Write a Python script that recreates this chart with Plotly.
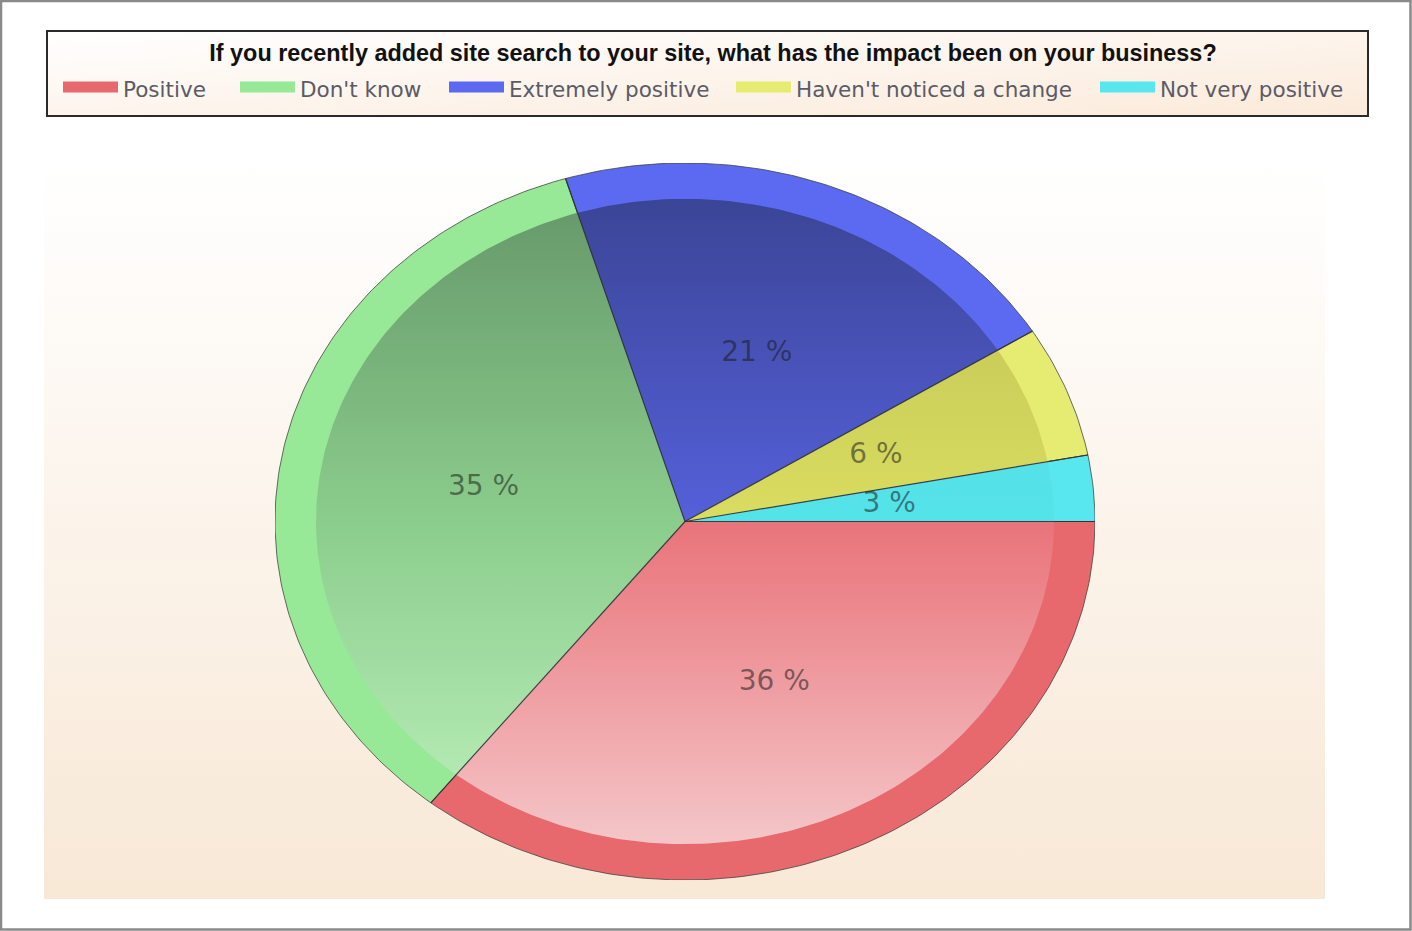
import base64
import numpy as np
import plotly.graph_objects as go

# ---------------- data ----------------
categories = ["Positive", "Don't know", "Extremely positive",
              "Haven't noticed a change", "Not very positive"]
values = [36, 35, 21, 6, 3]
chart_title = ("If you recently added site search to your site, "
               "what has the impact been on your business?")

# ---------------- styles ----------------
rim_colors = ["#E8696D", "#97E897", "#5B6AF0", "#E5EC71", "#58E7EE"]
grad_top = ["#B8484E", "#66986A", "#3B4596", "#BCBF52", "#4FD8E0"]
grad_mid = ["#E9737A", "#8BCD8C", "#5560DA", "#DADD60", "#55E3EA"]
grad_bot = ["#F4C6C8", "#BDF1BD", "#8C94F0", "#EEF2A8", "#A8F2F5"]
label_color = "rgba(25,25,25,0.55)"
legend_px = [63, 240, 449, 736, 1100]   # left edge of each legend swatch (px)

W, H = 1412, 931
CX, CY, RX, RY = 685, 521.5, 410, 358.5
INNER = 0.9

total = float(sum(values))
fracs = [v / total for v in values]
cum = np.concatenate([[0.0], np.cumsum(fracs)])
legend_ids = ["legend"] + [f"legend{k}" for k in range(2, len(categories) + 1)]


def wedge(a0, a1, r):
    t = np.linspace(a0, a1, max(8, int(400 * (a1 - a0))))
    ang = 2 * np.pi * t
    xs = np.concatenate([[0.0], r * np.cos(ang), [0.0]])
    ys = np.concatenate([[0.0], -r * np.sin(ang), [0.0]])
    return xs, ys


fig = go.Figure()

# outer rim slices
for i, cat in enumerate(categories):
    xs, ys = wedge(cum[i], cum[i + 1], 1.0)
    fig.add_trace(go.Scatter(
        x=xs, y=ys, mode="lines", fill="toself", name=cat,
        legendgroup=cat, showlegend=False,
        fillcolor=rim_colors[i],
        line=dict(color="rgba(60,60,60,0.75)", width=1),
        hovertemplate=f"{cat}: {values[i]}<extra></extra>",
    ))

# inner gradient slices
for i, cat in enumerate(categories):
    xs, ys = wedge(cum[i], cum[i + 1], INNER)
    fig.add_trace(go.Scatter(
        x=xs, y=ys, mode="lines", fill="toself", showlegend=False,
        legendgroup=cat,
        line=dict(width=0, color=grad_mid[i]),
        fillgradient=dict(type="vertical", start=-INNER, stop=INNER,
                          colorscale=[[0, grad_bot[i]], [0.5, grad_mid[i]],
                                      [1, grad_top[i]]]),
        hoverinfo="skip",
    ))

# radial separators
rx, ry = [], []
for c in cum[:-1]:
    a = 2 * np.pi * c
    rx += [0.0, np.cos(a), None]
    ry += [0.0, -np.sin(a), None]
fig.add_trace(go.Scatter(x=rx, y=ry, mode="lines", showlegend=False,
                         line=dict(color="rgba(45,45,55,0.85)", width=1.2),
                         hoverinfo="skip"))

# percentage labels
mids = 2 * np.pi * (cum[:-1] + cum[1:]) / 2
fig.add_trace(go.Scatter(
    x=0.5 * np.cos(mids), y=-0.5 * np.sin(mids), mode="text",
    text=[f"{round(100 * f)} %" for f in fracs], showlegend=False,
    textfont=dict(family="DejaVu Sans", size=28, color=label_color),
    hoverinfo="skip",
))

# legend entries (one legend per category so spacing matches)
for i, cat in enumerate(categories):
    fig.add_trace(go.Scatter(
        x=[None], y=[None], mode="lines", fill="toself", name=cat,
        legendgroup=cat, legend=legend_ids[i],
        fillcolor=rim_colors[i],
        line=dict(color=rim_colors[i], width=10),
        hoverinfo="skip",
    ))


def svg_uri(svg):
    return "data:image/svg+xml;base64," + base64.b64encode(svg.encode()).decode()


panel_svg = (
    '<svg xmlns="http://www.w3.org/2000/svg" width="1281" height="740" '
    'viewBox="0 0 1281 740" preserveAspectRatio="none">'
    '<defs><linearGradient id="g" x1="0" y1="0" x2="0" y2="1">'
    '<stop offset="0" stop-color="#FFFFFF"/>'
    '<stop offset="1" stop-color="#F8E8D6"/></linearGradient></defs>'
    '<rect x="0" y="0" width="1281" height="740" fill="url(#g)"/></svg>')

box_svg = (
    '<svg xmlns="http://www.w3.org/2000/svg" width="1323" height="87" '
    'viewBox="0 0 1323 87" preserveAspectRatio="none">'
    '<defs><linearGradient id="b" x1="0" y1="0" x2="1" y2="1">'
    '<stop offset="0" stop-color="#FFFFFF"/>'
    '<stop offset="1" stop-color="#FBEADA"/></linearGradient></defs>'
    '<rect x="1" y="1" width="1321" height="85" fill="url(#b)" '
    'stroke="#2a2a2a" stroke-width="2"/></svg>')

legend_font = dict(family="DejaVu Sans", size=21.5, color="#5b5b67")
legend_layout = {}
for i, lid in enumerate(legend_ids):
    legend_layout[lid] = dict(
        orientation="h", x=(legend_px[i] - 5) / W, xanchor="left",
        y=1 - 68 / H, yanchor="top", bgcolor="rgba(0,0,0,0)",
        borderwidth=0, itemwidth=55, itemclick=False,
        itemdoubleclick=False, font=legend_font)

fig.update_layout(
    width=W, height=H,
    margin=dict(l=0, r=0, t=0, b=0),
    paper_bgcolor="white", plot_bgcolor="rgba(0,0,0,0)",
    xaxis=dict(range=[-1, 1], domain=[(CX - RX) / W, (CX + RX) / W],
               visible=False, fixedrange=True),
    yaxis=dict(range=[-1, 1], domain=[1 - (CY + RY) / H, 1 - (CY - RY) / H],
               visible=False, fixedrange=True),
    title=dict(text=chart_title, x=713 / W, xanchor="center",
               y=1 - 53 / H, yanchor="middle", yref="container",
               font=dict(family="Liberation Sans", size=23.4, color="#111111",
                         weight="bold")),
    images=[
        dict(source=svg_uri(panel_svg), xref="paper", yref="paper",
             x=44 / W, y=1 - 159 / H, sizex=1281 / W, sizey=740 / H,
             xanchor="left", yanchor="top", sizing="stretch", layer="below"),
        dict(source=svg_uri(box_svg), xref="paper", yref="paper",
             x=46 / W, y=1 - 30 / H, sizex=1323 / W, sizey=87 / H,
             xanchor="left", yanchor="top", sizing="stretch", layer="below"),
    ],
    shapes=[dict(type="rect", xref="paper", yref="paper",
                 x0=1 / W, x1=1 - 1.5 / W, y0=1.5 / H, y1=1 - 1 / H,
                 line=dict(color="#8a8a8a", width=2.5), layer="above")],
    hovermode="closest",
    **legend_layout,
)

fig.write_html("out.html", config={"displayModeBar": False},
               post_script="document.body.style.margin='0px';")
